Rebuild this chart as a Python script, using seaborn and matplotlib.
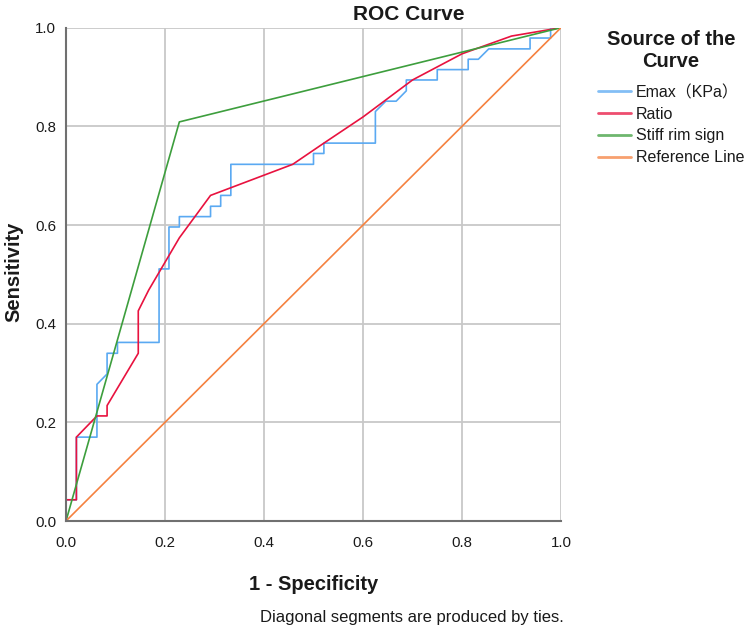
import pandas as pd
import seaborn as sns
import matplotlib.pyplot as plt

# ROC points
emax_fpr = [0, 0, 0.021, 0.021, 0.0625, 0.0625, 0.083, 0.083, 0.104, 0.104,
            0.188, 0.188, 0.208, 0.208, 0.229, 0.229, 0.292, 0.292, 0.3125, 0.3125,
            0.333, 0.333, 0.5, 0.5, 0.521, 0.521, 0.625, 0.625, 0.646, 0.667,
            0.6875, 0.6875, 0.75, 0.75, 0.8125, 0.8125, 0.833, 0.854, 0.9375, 0.9375,
            0.979, 0.979, 1.0]
emax_tpr = [0, 0.043, 0.043, 0.170, 0.170, 0.277, 0.298, 0.340, 0.340, 0.362,
            0.362, 0.511, 0.511, 0.596, 0.596, 0.617, 0.617, 0.638, 0.638, 0.660,
            0.660, 0.723, 0.723, 0.745, 0.745, 0.766, 0.766, 0.830, 0.851, 0.851,
            0.872, 0.894, 0.894, 0.915, 0.915, 0.936, 0.936, 0.957, 0.957, 0.979,
            0.979, 1.0, 1.0]

ratio_fpr = [0, 0, 0.021, 0.021, 0.0625, 0.083, 0.083, 0.146, 0.146, 0.167,
             0.229, 0.292, 0.458, 0.521, 0.60, 0.70, 0.80, 0.90, 1.0]
ratio_tpr = [0, 0.043, 0.043, 0.170, 0.213, 0.213, 0.234, 0.340, 0.426, 0.468,
             0.574, 0.660, 0.723, 0.766, 0.819, 0.894, 0.947, 0.983, 1.0]

stiff_fpr = [0, 0.229, 1.0]
stiff_tpr = [0, 0.809, 1.0]

ref_fpr = [0, 1.0]
ref_tpr = [0, 1.0]

sources = ["Emax（KPa）", "Ratio", "Stiff rim sign", "Reference Line"]
colors = ["#5aa9f2", "#e8123f", "#3d9e3d", "#f5813f"]


def main():
    rows = []
    curves = [(emax_fpr, emax_tpr), (ratio_fpr, ratio_tpr),
              (stiff_fpr, stiff_tpr), (ref_fpr, ref_tpr)]
    for name, (xs, ys) in zip(sources, curves):
        for i, (x, y) in enumerate(zip(xs, ys)):
            rows.append([name, i, x, y])
    df = pd.DataFrame(rows, columns=["source", "order", "fpr", "tpr"])

    sns.set_style("whitegrid", {"grid.color": "#c8c8c8", "axes.edgecolor": "#707070"})
    plt.rcParams["font.family"] = ["Liberation Sans", "Noto Sans CJK SC", "DejaVu Sans"]

    fig = plt.figure(figsize=(7.5, 6.29), dpi=100)
    ax = fig.add_axes([0.088, 0.1717, 0.66, 0.7843])

    sns.lineplot(data=df, x="fpr", y="tpr", hue="source", hue_order=sources,
                 palette=dict(zip(sources, colors)), sort=False, estimator=None,
                 units="source", linewidth=1.2, ax=ax)

    ax.set_xlim(0, 1)
    ax.set_ylim(0, 1)
    ticks = [0.0, 0.2, 0.4, 0.6, 0.8, 1.0]
    ax.set_xticks(ticks)
    ax.set_yticks(ticks)
    ax.set_xticklabels([f"{t:.1f}" for t in ticks])
    ax.set_yticklabels([f"{t:.1f}" for t in ticks])
    ax.tick_params(axis="both", labelsize=10.8, colors="#1a1a1a", length=3,
                   width=1, direction="out")
    ax.tick_params(axis="x", length=0, pad=11)
    ax.tick_params(axis="y", pad=4)
    ax.grid(True, color="#c8c8c8", linewidth=1.3)
    for side in ["top", "right"]:
        ax.spines[side].set_visible(False)
    for side in ["left", "bottom"]:
        ax.spines[side].set_color("#707070")
        ax.spines[side].set_linewidth(1.5)

    ax.set_xlabel("1 - Specificity", fontsize=14.5, fontweight="bold", labelpad=18,
                  color="#1a1a1a")
    ax.set_ylabel("")
    fig.text(0.019, 0.568, "Sensitivity", rotation=90, ha="center", va="center",
             fontsize=14.5, fontweight="bold", color="#1a1a1a")
    fig.text(0.545, 0.977, "ROC Curve", ha="center", va="center",
             fontsize=15, fontweight="bold", color="#1a1a1a")
    fig.text(0.751, 0.019, "Diagonal segments are produced by ties.",
             ha="right", va="center", fontsize=12, color="#1a1a1a")

    sns.move_legend(ax, "upper left", bbox_to_anchor=(0.797, 0.952),
                    bbox_transform=fig.transFigure, title="Source of the\nCurve",
                    frameon=False, fontsize=11.5, title_fontsize=14.5,
                    handlelength=2.1, handletextpad=0.3, labelspacing=0.42,
                    borderpad=0, borderaxespad=0)
    leg = ax.get_legend()
    title = leg.get_title()
    title.set_fontweight("bold")
    title.set_multialignment("center")
    title.set_linespacing(1.18)
    title.set_color("#1a1a1a")
    for txt in leg.get_texts():
        txt.set_color("#1a1a1a")
    leg._legend_box.align = "center"
    leg._legend_box.sep = 10
    for line in leg.get_lines():
        line.set_linewidth(2)
        line.set_alpha(0.75)

    plt.savefig("out.png", dpi=100)


if __name__ == "__main__":
    main()
